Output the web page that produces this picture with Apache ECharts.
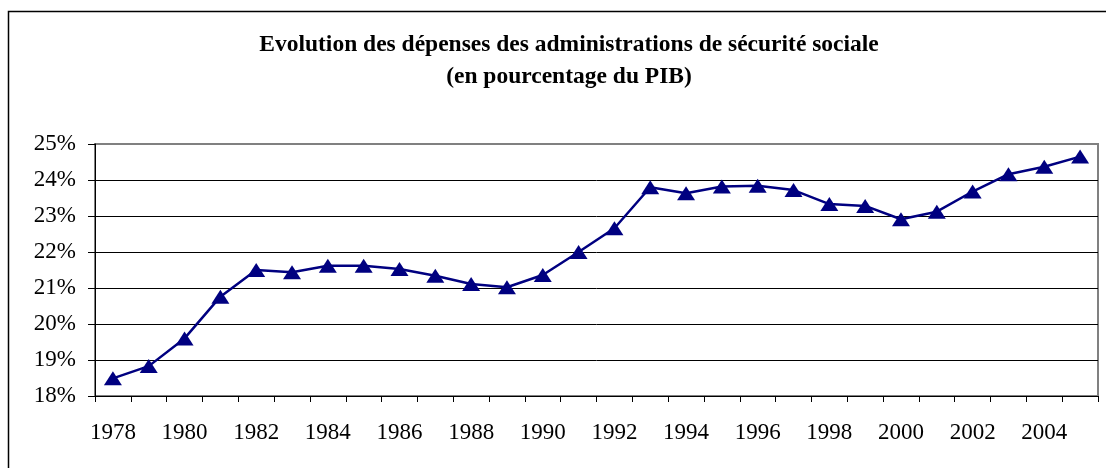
<!DOCTYPE html>
<html>
<head>
<meta charset="utf-8">
<script src="https://cdn.jsdelivr.net/npm/echarts@6/dist/echarts.min.js"></script>
<style>
  html, body { margin: 0; padding: 0; background: #fff; }
  #chart { width: 1106px; height: 468px; }
</style>
</head>
<body>
<div id="chart"></div>
<script>
// Années (1978 - 2005)
const years = ['1978', '1979', '1980', '1981', '1982', '1983', '1984', '1985', '1986', '1987',
  '1988', '1989', '1990', '1991', '1992', '1993', '1994', '1995', '1996', '1997',
  '1998', '1999', '2000', '2001', '2002', '2003', '2004', '2005'];

// Dépenses des administrations de sécurité sociale, en % du PIB
const depenses = [18.49, 18.83, 19.6, 20.76, 21.5, 21.44, 21.62, 21.62, 21.53, 21.34,
  21.11, 21.02, 21.36, 22.0, 22.66, 23.8, 23.63, 23.82, 23.84, 23.72,
  23.33, 23.28, 22.91, 23.12, 23.68, 24.16, 24.37, 24.65];

const titleLines = ['Evolution des dépenses des administrations de sécurité sociale', '(en pourcentage du PIB)'];

const font = '"Liberation Serif", "Times New Roman", serif';

const chart = echarts.init(document.getElementById('chart'));
chart.setOption({
  animation: false,
  backgroundColor: '#fff',
  graphic: [{
    type: 'rect',
    shape: { x: 8.5, y: 11.5, width: 1200, height: 600 },
    style: { fill: 'none', stroke: '#000', lineWidth: 1.5 },
    z: -1
  }],
  title: {
    text: titleLines.join('\n'),
    left: 564,
    textAlign: 'center',
    top: 24,
    textStyle: {
      fontFamily: font,
      fontWeight: 'bold',
      fontSize: 23.5,
      lineHeight: 32,
      color: '#000'
    }
  },
  grid: {
    left: 95, right: 8, top: 144, bottom: 72,
    show: true,
    borderColor: '#808080',
    borderWidth: 2,
    backgroundColor: 'transparent'
  },
  xAxis: {
    type: 'category',
    data: years,
    boundaryGap: true,
    axisLine: { lineStyle: { color: '#000', width: 1 } },
    axisTick: { show: true, interval: 0, length: 6, lineStyle: { color: '#000' } },
    axisLabel: {
      interval: 1,
      margin: 25,
      fontFamily: font,
      fontSize: 23,
      color: '#000'
    },
    splitLine: { show: false }
  },
  yAxis: {
    type: 'value',
    min: 18,
    max: 25,
    interval: 1,
    axisLine: { show: true, lineStyle: { color: '#000', width: 1 } },
    axisTick: { show: true, length: 7, lineStyle: { color: '#000' } },
    axisLabel: {
      margin: 19,
      fontFamily: font,
      fontSize: 23,
      color: '#000',
      formatter: v => v + '%'
    },
    splitLine: {
      show: true,
      lineStyle: {
        color: ['#000', '#000', '#000', '#000', '#000', '#000', '#000', '#808080'],
        width: 1
      }
    }
  },
  series: [{
    type: 'line',
    data: depenses,
    symbol: 'triangle',
    symbolSize: [18, 14],
    lineStyle: { color: '#000080', width: 2.5 },
    itemStyle: { color: '#000080' },
    z: 5
  }]
});
</script>
</body>
</html>
